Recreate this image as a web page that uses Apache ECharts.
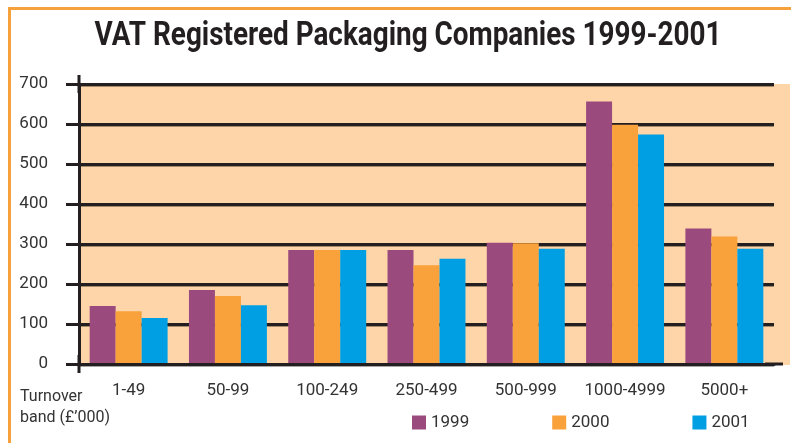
<!DOCTYPE html>
<html>
<head>
<meta charset="utf-8">
<script src="https://cdn.jsdelivr.net/npm/echarts@6/dist/echarts.min.js"></script>
<style>
  html, body { margin: 0; padding: 0; background: #fff; }
  #chart { width: 791px; height: 443px; }
</style>
</head>
<body>
<div id="chart"></div>
<script>
// Turnover bands (£'000)
const categories = ['1-49', '50-99', '100-249', '250-499', '500-999', '1000-4999', '5000+'];
// Number of VAT registered packaging companies per band
const values1999 = [145, 185, 285, 285, 303, 656, 339];
const values2000 = [132, 170, 285, 247, 302, 598, 319];
const values2001 = [115, 147, 285, 263, 288, 574, 288];
const seriesNames = ['1999', '2000', '2001'];
const yTicks = { min: 0, max: 700, step: 100 };

const titleText = 'VAT Registered Packaging Companies 1999-2001';

const colors = ['#9B4A7E', '#F9A13A', '#009FE3'];
const ink = '#231F20';
const font = 'Roboto, sans-serif';

const W = 791, H = 443;
const grid = { left: 79, right: 17, top: 84, bottom: 79 };

// The heading is set in a condensed bold face: squeeze a regular bold to the wanted width.
const titleFont = 'bold 34px Roboto, sans-serif';
const titleWidth = 627;
const measureCtx = document.createElement('canvas').getContext('2d');
measureCtx.font = titleFont;
const titleScale = titleWidth / measureCtx.measureText(titleText).width;

const chart = echarts.init(document.getElementById('chart'), null, { renderer: 'canvas' });

chart.setOption({
  animation: false,
  color: colors,
  legend: {
    left: 407,
    top: 409,
    itemWidth: 14,
    itemHeight: 14,
    itemGap: 83,
    icon: 'rect',
    textStyle: { fontFamily: font, fontSize: 17, color: '#333' },
    data: seriesNames
  },
  graphic: [
    // orange frame along the top and left edges
    { type: 'rect', shape: { x: 8, y: 7, width: W - 8, height: 3 }, style: { fill: '#F7A13D' }, z: 0 },
    { type: 'rect', shape: { x: 8, y: 7, width: 3, height: H - 7 }, style: { fill: '#F7A13D' }, z: 0 },
    // peach plot background, running on past the last gridline
    { type: 'rect', shape: { x: grid.left, y: grid.top, width: W - 1 - grid.left, height: H - grid.bottom - grid.top + 1 },
      style: { fill: '#FED5A9' }, z: -10 },
    // heading
    { type: 'text', x: 408, y: 36, scaleX: titleScale,
      style: { text: titleText, font: titleFont, fill: ink, align: 'center', verticalAlign: 'middle' } },
    // x-axis title
    { type: 'text', left: 20, top: 386,
      style: { text: 'Turnover\nband (£\u2019000)', font: '16px ' + font, fill: '#333', lineHeight: 21 } }
  ],
  grid: grid,
  xAxis: {
    type: 'category',
    data: categories,
    axisLine: {
      show: true,
      symbol: ['none', 'rect'],
      symbolSize: [3, 18],
      lineStyle: { color: ink, width: 3 }
    },
    axisTick: { show: false },
    axisLabel: { interval: 0, margin: 18, fontFamily: font, fontSize: 17, color: '#333' },
    z: 5
  },
  yAxis: {
    type: 'value',
    min: yTicks.min,
    max: yTicks.max,
    interval: yTicks.step,
    axisLine: {
      show: true,
      symbol: ['rect', 'rect'],
      symbolSize: [3, 18],
      lineStyle: { color: ink, width: 3 }
    },
    axisTick: { show: true, length: 13, lineStyle: { color: ink, width: 3 } },
    axisLabel: { margin: 31, fontFamily: font, fontSize: 17, color: '#333' },
    splitLine: {
      show: true,
      lineStyle: { color: ink, width: 3, shadowColor: 'rgba(0,0,0,0.35)', shadowOffsetY: 1, shadowBlur: 0 }
    }
  },
  series: [
    { name: seriesNames[0], type: 'bar', data: values1999, barGap: '0%', barCategoryGap: '21.5%' },
    { name: seriesNames[1], type: 'bar', data: values2000, barGap: '0%', barCategoryGap: '21.5%' },
    { name: seriesNames[2], type: 'bar', data: values2001, barGap: '0%', barCategoryGap: '21.5%' }
  ]
});
</script>
</body>
</html>
